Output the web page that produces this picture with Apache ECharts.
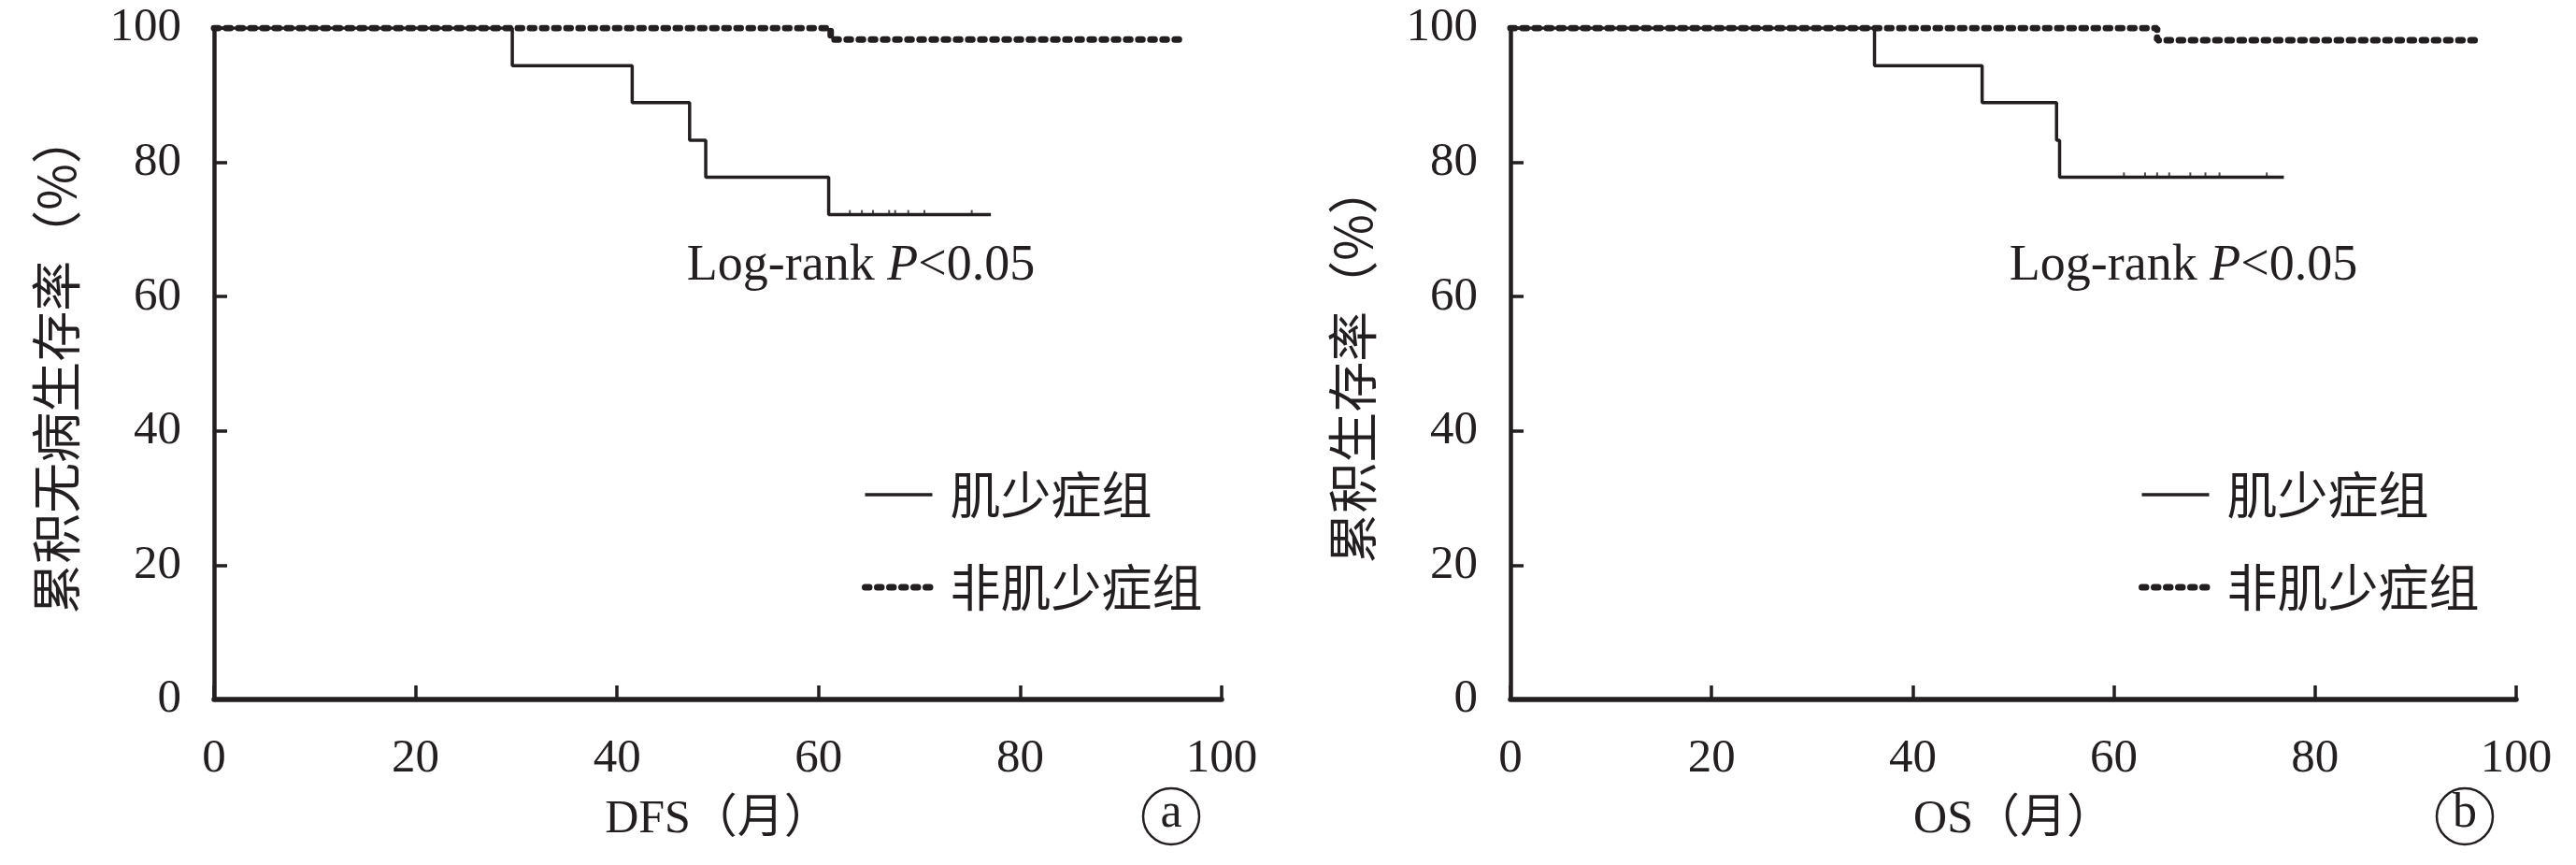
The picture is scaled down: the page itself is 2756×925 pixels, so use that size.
<!DOCTYPE html>
<html>
<head>
<meta charset="utf-8">
<script src="https://cdn.jsdelivr.net/npm/echarts@6/dist/echarts.min.js"></script>
<style>
html,body{margin:0;padding:0;background:#fff;}
#c{width:2756px;height:925px;}
</style>
</head>
<body>
<div id="c"></div>
<script>
// ---- data ----
const xTicks = [0, 20, 40, 60, 80, 100];
const yTicks = [0, 20, 40, 60, 80, 100];
const groupNames = ['肌少症组', '非肌少症组'];
const xAxisNames = ['DFS（月）', 'OS（月）'];
const yAxisNames = ['累积无病生存率（%）', '累积生存率（%）'];
const panelLabels = ['a', 'b'];

// Panel a: DFS
const dfsSarcTime = [0, 29.6, 41.5, 47.2, 48.8, 61.0, 77.1];
const dfsSarcSurv = [100, 94.4, 88.9, 83.3, 77.8, 72.2, 72.2];
const dfsNonTime = [0, 61.2, 96.4];
const dfsNonSurv = [100, 98.3, 98.3];
const dfsCensorTime = [63.1, 64.3, 65.4, 67.0, 67.6, 68.9, 70.5, 75.2];
const dfsCensorSurv = [72.2, 72.2, 72.2, 72.2, 72.2, 72.2, 72.2, 72.2];

// Panel b: OS
const osSarcTime = [0, 36.2, 46.9, 54.3, 54.6, 76.9];
const osSarcSurv = [100, 94.4, 88.9, 83.3, 77.8, 77.8];
const osNonTime = [0, 64.3, 96.3];
const osNonSurv = [100, 98.2, 98.2];
const osCensorTime = [61.0, 63.1, 64.3, 65.5, 67.6, 69.1, 70.5, 75.2];
const osCensorSurv = [77.8, 77.8, 77.8, 77.8, 77.8, 77.8, 77.8, 77.8];

// ---- rendering ----
const INK = '#231f20';
const SERIF = '"Liberation Serif", "Times New Roman", serif';
const CJK = '"Noto Sans CJK SC", sans-serif';
const zip = (a, b) => a.map((v, i) => [v, b[i]]);
const SOLID = {color: INK, width: 3.5};
const DOTTED = {color: INK, width: 7, type: [4.5, 8.5], cap: 'round'};

const grids = [
  {left: 229, top: 30, width: 1078, height: 718},
  {left: 1616, top: 30, width: 1076, height: 718}
];

function xAxis(i) {
  return {
    type: 'value', gridIndex: i, min: xTicks[0], max: xTicks[xTicks.length - 1],
    interval: xTicks[1] - xTicks[0],
    name: xAxisNames[i], nameLocation: 'middle', nameGap: 104,
    nameTextStyle: {fontFamily: SERIF + ', ' + CJK, fontSize: 50, color: INK},
    axisLine: {show: true, lineStyle: {color: INK, width: 5.5}},
    axisTick: {show: true, inside: true, length: 15, lineStyle: {color: INK, width: 3.5}},
    axisLabel: {margin: 38, fontFamily: SERIF, fontSize: 51, color: INK},
    splitLine: {show: false}
  };
}
function yAxis(i) {
  return {
    type: 'value', gridIndex: i, min: yTicks[0], max: yTicks[yTicks.length - 1],
    interval: yTicks[1] - yTicks[0],
    name: yAxisNames[i], nameLocation: 'middle', nameGap: 142, nameRotate: 90,
    nameTextStyle: {fontFamily: CJK, fontSize: 54, color: INK},
    axisLine: {show: true, lineStyle: {color: INK, width: 4.5}},
    axisTick: {show: true, inside: true, length: 14, lineStyle: {color: INK, width: 3.5}},
    axisLabel: {margin: 35, fontFamily: SERIF, fontSize: 51, color: INK},
    splitLine: {show: false}
  };
}

function kmSeries(name, i, t, s, dotted) {
  return {
    type: 'line', name: name, xAxisIndex: i, yAxisIndex: i,
    data: zip(t, s), step: 'end', symbol: 'none', silent: true,
    lineStyle: dotted ? DOTTED : SOLID,
    itemStyle: {color: INK},
    z: dotted ? 3 : 4
  };
}
function censorSeries(i, t, s) {
  return {
    type: 'scatter', name: 'censor' + i, xAxisIndex: i, yAxisIndex: i,
    data: zip(t, s), symbol: 'rect', symbolSize: [2, 6], symbolOffset: [0, -2],
    itemStyle: {color: INK}, silent: true, z: 5
  };
}

function legend(left) {
  return {
    orient: 'vertical', left: left, top: 494, itemWidth: 72, itemHeight: 14, itemGap: 39,
    selectedMode: false,
    itemStyle: {opacity: 0},
    data: [
      {name: groupNames[0], lineStyle: SOLID, itemStyle: {opacity: 0}},
      {name: groupNames[1], lineStyle: DOTTED, itemStyle: {opacity: 0}}
    ],
    textStyle: {fontFamily: CJK, fontSize: 54, color: INK, lineHeight: 60, padding: [0, 0, 0, 14]}
  };
}

function logRank(cx) {
  return {
    type: 'text', silent: true,
    style: {
      x: cx, y: 285, align: 'center', verticalAlign: 'middle',
      text: '{n|Log-rank }{i|P}{n|<0.05}',
      rich: {
        n: {fontFamily: SERIF, fontSize: 54, fill: INK},
        i: {fontFamily: SERIF, fontSize: 54, fontStyle: 'italic', fill: INK}
      }
    }
  };
}
function circleLabel(cx, txt) {
  return [
    {type: 'circle', silent: true, shape: {cx: cx, cy: 873, r: 30},
     style: {fill: 'none', stroke: INK, lineWidth: 2.5}},
    {type: 'text', silent: true,
     style: {x: cx, y: 870, align: 'center', verticalAlign: 'middle', text: txt,
             fontFamily: SERIF, fontSize: 52, fill: INK}}
  ];
}

const option = {
  animation: false,
  backgroundColor: '#fff',
  grid: grids,
  xAxis: [xAxis(0), xAxis(1)],
  yAxis: [yAxis(0), yAxis(1)],
  legend: [legend(917), legend(2283)],
  series: [
    kmSeries(groupNames[0], 0, dfsSarcTime, dfsSarcSurv, false),
    kmSeries(groupNames[1], 0, dfsNonTime, dfsNonSurv, true),
    censorSeries(0, dfsCensorTime, dfsCensorSurv),
    kmSeries(groupNames[0], 1, osSarcTime, osSarcSurv, false),
    kmSeries(groupNames[1], 1, osNonTime, osNonSurv, true),
    censorSeries(1, osCensorTime, osCensorSurv)
  ],
  graphic: [
    logRank(921), logRank(2336),
    ...circleLabel(1253, panelLabels[0]),
    ...circleLabel(2637, panelLabels[1])
  ]
};

const chart = echarts.init(document.getElementById('c'), null, {renderer: 'canvas'});
chart.setOption(option);
</script>
</body>
</html>
